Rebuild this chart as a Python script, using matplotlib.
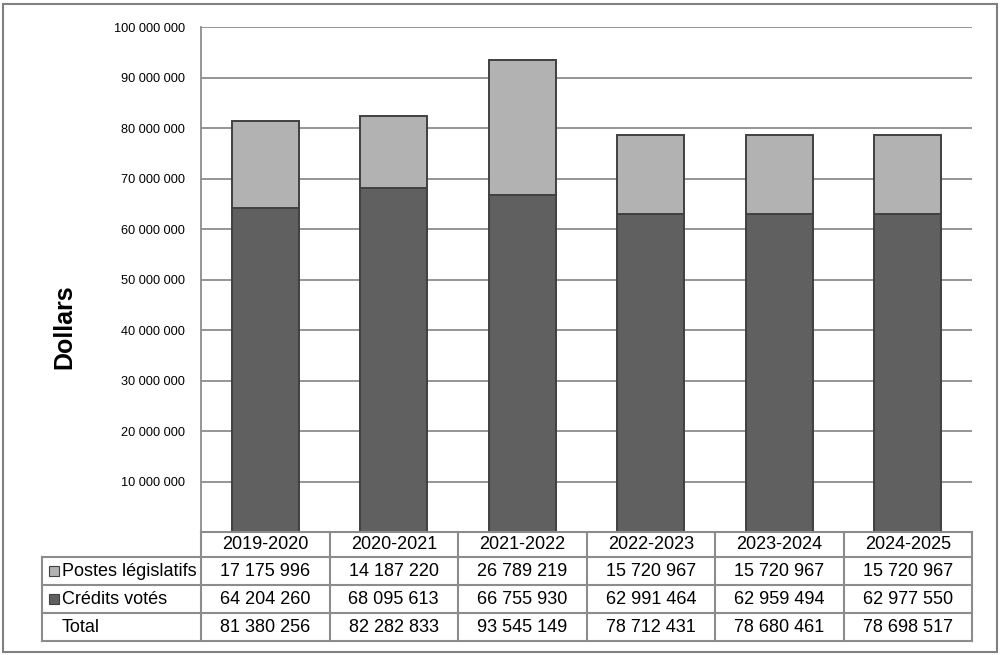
import matplotlib
matplotlib.use("Agg")
import matplotlib.pyplot as plt
from matplotlib.lines import Line2D
from matplotlib.patches import Rectangle
from matplotlib.ticker import FuncFormatter

categories = ["2019-2020", "2020-2021", "2021-2022", "2022-2023", "2023-2024", "2024-2025"]
credits_votes = [64204260, 68095613, 66755930, 62991464, 62959494, 62977550]
postes_legislatifs = [17175996, 14187220, 26789219, 15720967, 15720967, 15720967]
totals = [81380256, 82282833, 93545149, 78712431, 78680461, 78698517]
series_labels = ["Postes législatifs", "Crédits votés", "Total"]
y_ticks = list(range(10000000, 100000001, 10000000))

W, H = 1000, 655
fig = plt.figure(figsize=(W / 100, H / 100), dpi=100)
plt.rcParams['font.family'] = ['Liberation Sans', 'DejaVu Sans']

L, R, T, B = 201, 972, 27, 532
ax = fig.add_axes([L / W, 1 - B / H, (R - L) / W, (B - T) / H])

light = "#b2b2b2"
dark = "#606060"
edge = "#404040"
grid = "#8c8c8c"

x = list(range(len(categories)))
ax.bar(x, credits_votes, width=0.52, color=dark, edgecolor=edge, linewidth=1.4, zorder=3)
ax.bar(x, postes_legislatifs, bottom=credits_votes, width=0.52, color=light,
       edgecolor=edge, linewidth=1.4, zorder=3)

ax.set_xlim(-0.5, len(categories) - 0.5)
ax.set_ylim(0, 100000000)
ax.set_yticks(y_ticks)
ax.yaxis.set_major_formatter(FuncFormatter(lambda v, p: f"{int(v):,}".replace(",", " ")))
ax.tick_params(axis='y', length=0, pad=11.5, labelsize=9.2, labelcolor="#000000")
ax.tick_params(axis='x', length=0, labelbottom=False)
ax.grid(axis='y', color=grid, linewidth=1.3, zorder=0)
for s in ["top", "right", "bottom"]:
    ax.spines[s].set_visible(False)
ax.spines["left"].set_color(grid)
ax.spines["left"].set_linewidth(1.3)

fig.text(64 / W, 1 - 327 / H, "Dollars", rotation=90, fontsize=18, fontweight='bold',
         ha='center', va='center')

# table
line_kw = dict(color=grid, linewidth=1.5)
def hline(y, x0, x1):
    fig.add_artist(Line2D([x0 / W, x1 / W], [1 - y / H, 1 - y / H], **line_kw))
def vline(xp, y0, y1):
    fig.add_artist(Line2D([xp / W, xp / W], [1 - y0 / H, 1 - y1 / H], **line_kw))

rows_y = [532, 557, 585, 613, 641]
label_left = 42
colw = (R - L) / len(categories)
hline(532, L, R)
for y in rows_y[1:]:
    hline(y, label_left, R)
vline(label_left, 557, 641)
for i in range(len(categories) + 1):
    vline(L + i * colw, 532, 641)

def yc(i):
    return 1 - (rows_y[i] + rows_y[i + 1]) / 2 / H

for i, c in enumerate(categories):
    cx = (L + (i + 0.5) * colw) / W
    fig.text(cx, yc(0), c, ha='center', va='center', fontsize=13)
    fig.text(cx, yc(1), f"{postes_legislatifs[i]:,}".replace(",", " "),
             ha='center', va='center', fontsize=13)
    fig.text(cx, yc(2), f"{credits_votes[i]:,}".replace(",", " "),
             ha='center', va='center', fontsize=13)
    fig.text(cx, yc(3), f"{totals[i]:,}".replace(",", " "),
             ha='center', va='center', fontsize=13)

for r, (lab, col) in enumerate(zip(series_labels, [light, dark, None])):
    if col is not None:
        ym = (rows_y[r + 1] + rows_y[r + 2]) / 2
        fig.add_artist(Rectangle((49 / W, 1 - (ym + 5) / H), 10 / W, 10 / H,
                                 facecolor=col, edgecolor=edge, linewidth=0.8))
    fig.text(62 / W, yc(r + 1), lab, ha='left', va='center', fontsize=13)

fig.add_artist(Rectangle((2.5 / W, 3.5 / H), 994 / W, 648 / H, fill=False,
                         edgecolor="#808080", linewidth=1.5))

fig.savefig("out.png", dpi=100, facecolor="white")
